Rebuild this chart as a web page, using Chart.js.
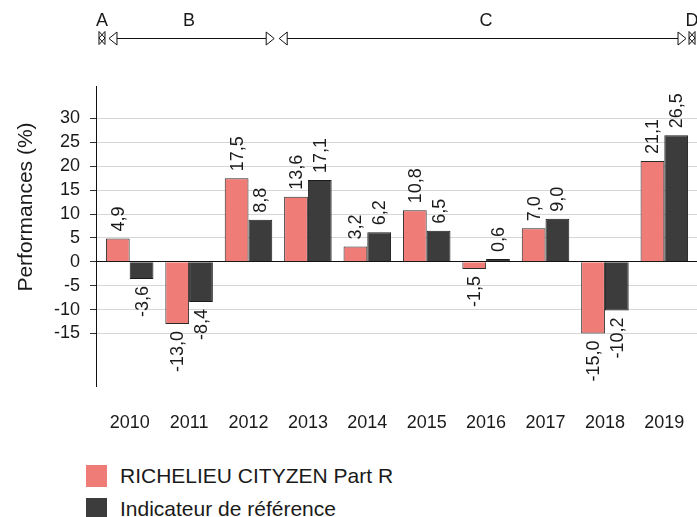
<!DOCTYPE html>
<html>
<head>
<meta charset="utf-8">
<script src="https://cdn.jsdelivr.net/npm/chart.js@4.4.1/dist/chart.umd.min.js"></script>
<style>
  body { margin: 0; background: #fff; font-family: "Liberation Sans", Arial, sans-serif; }
  #wrap { position: relative; width: 697px; height: 517px; overflow: hidden; }
  #box { position: absolute; left: 0; top: 0; width: 697px; height: 440px; }
  #legend { position: absolute; left: 86px; top: 459px; font-size: 21px; color: #1a1a1a; }
  .item { display: flex; align-items: center; height: 33px; }
  .sw { width: 21px; height: 22px; margin-right: 13px; }
</style>
</head>
<body>
<div id="wrap">
  <div id="box"><canvas id="perfChart"></canvas></div>
  <div id="legend"></div>
</div>
<script>
const years = [2010, 2011, 2012, 2013, 2014, 2015, 2016, 2017, 2018, 2019];
const fundVals = [4.9, -13.0, 17.5, 13.6, 3.2, 10.8, -1.5, 7.0, -15.0, 21.1];
const indexVals = [-3.6, -8.4, 8.8, 17.1, 6.2, 6.5, 0.6, 9.0, -10.2, 26.5];
const yTicks = [-15, -10, -5, 0, 5, 10, 15, 20, 25, 30];
const seriesNames = ["RICHELIEU CITYZEN Part R", "Indicateur de référence"];
const seriesColors = ["#f07c77", "#3c3c3c"];
// periods above the chart: label, first year, last year (empty = marker only)
const periodNames = ["A", "B", "C", "D"];
const periodFrom = [2009.5, 2009.5, 2012.5, 2019.5];
const periodTo = [2009.5, 2012.5, 2019.5, 2019.5];

const FONT = "'Liberation Sans', Arial, sans-serif";
const fmt = v => v.toFixed(1).replace(".", ",");

const valueLabels = {
  id: "valueLabels",
  afterDatasetsDraw(chart) {
    const ctx = chart.ctx;
    ctx.save();
    ctx.font = "18px " + FONT;
    ctx.fillStyle = "#1a1a1a";
    ctx.textBaseline = "middle";
    chart.data.datasets.forEach((ds, di) => {
      chart.getDatasetMeta(di).data.forEach((bar, i) => {
        const v = ds.data[i];
        ctx.save();
        ctx.translate(bar.x, v >= 0 ? bar.y - 7 : bar.y + 7);
        ctx.rotate(-Math.PI / 2);
        ctx.textAlign = v >= 0 ? "left" : "right";
        ctx.fillText(fmt(v), 0, 1);
        ctx.restore();
      });
    });
    ctx.restore();
  }
};

function arrowHead(ctx, x, y, dir) {
  ctx.beginPath();
  ctx.moveTo(x, y);
  ctx.lineTo(x - dir * 8, y - 6.5);
  ctx.lineTo(x - dir * 8, y + 6.5);
  ctx.closePath();
  ctx.fillStyle = "#fff";
  ctx.fill();
  ctx.stroke();
}

const periods = {
  id: "periods",
  afterDraw(chart) {
    const ctx = chart.ctx;
    const xs = chart.scales.x;
    const yLine = 38;
    ctx.save();
    ctx.strokeStyle = "#111";
    ctx.lineWidth = 1;
    ctx.font = "18px " + FONT;
    ctx.fillStyle = "#1a1a1a";
    ctx.textAlign = "center";
    ctx.textBaseline = "middle";
    periodNames.forEach((name, i) => {
      const a = xs.getPixelForValue(periodFrom[i]);
      const b = xs.getPixelForValue(periodTo[i]);
      if (b - a < 1) {
        const cx = i === 0 ? a + 2 : b - 2;
        ctx.beginPath();
        ctx.moveTo(cx - 3, yLine - 6.5); ctx.lineTo(cx + 3, yLine); ctx.lineTo(cx - 3, yLine + 6.5); ctx.closePath();
        ctx.moveTo(cx + 3, yLine - 6.5); ctx.lineTo(cx - 3, yLine); ctx.lineTo(cx + 3, yLine + 6.5); ctx.closePath();
        ctx.stroke();
        ctx.fillText(name, cx, 21);
      } else {
        const l = a + (i === 1 ? 9 : 1);
        const r = b - (i === periodNames.length - 2 ? 8 : 4);
        ctx.beginPath();
        ctx.moveTo(l + 8, yLine + 0.5);
        ctx.lineTo(r - 8, yLine + 0.5);
        ctx.stroke();
        arrowHead(ctx, l, yLine + 0.5, -1);
        arrowHead(ctx, r, yLine + 0.5, 1);
        ctx.fillStyle = "#1a1a1a";
        ctx.fillText(name, (a + b) / 2, 21);
      }
    });
    // y axis title
    const ys = chart.scales.y;
    ctx.save();
    ctx.translate(26, (ys.top + ys.bottom) / 2 - 29);
    ctx.rotate(-Math.PI / 2);
    ctx.font = "21px " + FONT;
    ctx.fillText("Performances (%)", 0, 0);
    ctx.restore();
    ctx.restore();
  }
};

new Chart(document.getElementById("perfChart"), {
  type: "bar",
  data: {
    labels: years,
    datasets: [
      { label: seriesNames[0], data: fundVals, backgroundColor: seriesColors[0], borderColor: "#2a2a2a", borderWidth: 1 },
      { label: seriesNames[1], data: indexVals, backgroundColor: seriesColors[1], borderColor: "#1a1a1a", borderWidth: 1 },
    ],
  },
  options: {
    responsive: true,
    maintainAspectRatio: false,
    animation: false,
    layout: { padding: { top: 86, left: 0, right: 0, bottom: 0 } },
    datasets: { bar: { categoryPercentage: 0.8, barPercentage: 1 } },
    plugins: { legend: { display: false }, tooltip: { enabled: false } },
    scales: {
      x: {
        type: "linear",
        offset: false,
        min: 2009.433,
        max: 2019.55,
        grid: { display: false, drawTicks: false },
        border: { display: false },
        afterBuildTicks: s => { s.ticks = years.map(v => ({ value: v })); },
        afterFit: s => { s.height = 54; s.paddingLeft = 0; s.paddingRight = 0; },
        ticks: {
          padding: 26,
          autoSkip: false,
          maxRotation: 0,
          color: "#1a1a1a",
          font: { family: FONT, size: 18 },
          callback: v => String(v),
        },
      },
      y: {
        min: -26,
        max: 36.8,
        afterBuildTicks: s => { s.ticks = yTicks.map(v => ({ value: v })); },
        afterFit: s => { s.width = 96; },
        grid: {
          color: c => (c.tick && c.tick.value === 0 ? "#111" : "#d6d6d6"),
          tickColor: "#333",
          tickLength: 6,
        },
        border: { display: true, color: "#111", width: 1 },
        ticks: {
          padding: 10,
          color: "#1a1a1a",
          font: { family: FONT, size: 18 },
          callback: v => String(v),
        },
      },
    },
  },
  plugins: [valueLabels, periods],
});

const legendEl = document.getElementById("legend");
seriesNames.forEach((name, i) => {
  const row = document.createElement("div");
  row.className = "item";
  const sw = document.createElement("span");
  sw.className = "sw";
  sw.style.background = seriesColors[i];
  row.appendChild(sw);
  row.appendChild(document.createTextNode(name));
  legendEl.appendChild(row);
});
</script>
</body>
</html>
